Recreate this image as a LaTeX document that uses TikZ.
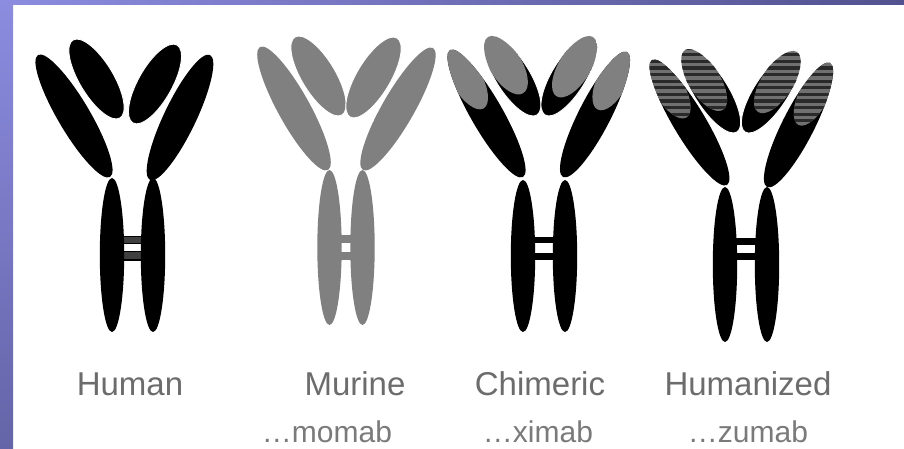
\documentclass[tikz,border=0pt]{standalone}
\usepackage{fontspec}
\newfontfamily\labelfont{Liberation Sans}
\definecolor{murgray}{HTML}{808080}
\definecolor{hatchlight}{HTML}{707070}
\definecolor{hatchdark}{HTML}{2A2A2A}
\definecolor{labgray}{HTML}{6C6C6C}
\definecolor{subgray}{HTML}{7A7A7A}
\definecolor{frametop}{HTML}{8C8CE0}
\definecolor{framebot}{HTML}{6464A8}
\definecolor{frameright}{HTML}{525290}

% geometry of one lobe: tip (x1,y1), tip (x2,y2), half width
\newcommand\setlobe[5]{%
  \pgfmathsetmacro\lcx{(#1+#3)/2}%
  \pgfmathsetmacro\lcy{-(#2+#4)/2}%
  \pgfmathsetmacro\lang{atan2(-(#4-#2),#3-#1)}%
  \pgfmathsetmacro\llen{veclen(#3-#1,#4-#2)/2}%
  \def\lw{#5}}
% plain lobe
\newcommand\lobe[6]{%
  \setlobe{#1}{#2}{#3}{#4}{#5}%
  \fill[#6, shift={(\lcx,\lcy)}, rotate=\lang] (0,0) ellipse [x radius=\llen, y radius=\lw];}
% lobe whose first tip carries a second colour over a fraction of its length
\newcommand\tiplobe[7]{%
  \setlobe{#1}{#2}{#3}{#4}{#5}%
  \begin{scope}
    \clip[shift={(\lcx,\lcy)}, rotate=\lang] (0,0) ellipse [x radius=\llen, y radius=\lw];
    \fill[#7, shift={(\lcx,\lcy)}, rotate=\lang] ({-\llen*(1-#6)},0) ellipse [x radius={\llen*#6}, y radius={\lw-1}];
  \end{scope}}
% same, with a striped tip
\newcommand\hatchlobe[6]{%
  \setlobe{#1}{#2}{#3}{#4}{#5}%
  \begin{scope}
    \clip[shift={(\lcx,\lcy)}, rotate=\lang] (0,0) ellipse [x radius=\llen, y radius=\lw];
    \clip[shift={(\lcx,\lcy)}, rotate=\lang] ({-\llen*(1-#6)},0) ellipse [x radius={\llen*#6}, y radius={\lw-1.2}];
    \fill[hatchlight] ({\lcx-90},-20) rectangle ({\lcx+90},-200);
    \foreach \k in {0,...,24}
      \fill[hatchdark] ({\lcx-90},{-40-\k*6.6}) rectangle ({\lcx+90},{-40-\k*6.6-3.2});
  \end{scope}}
% constant-region stem: centre x, top y, bottom y
\newcommand\stem[4]{%
  \fill[#4] (#1,{-(#2+#3)/2}) ellipse [x radius=12.2, y radius={(#3-#2)/2}];}

\begin{document}
\begin{tikzpicture}[x=1pt,y=1pt,
  lab/.style={font=\labelfont\fontsize{33}{36}\selectfont, text=labgray, anchor=base, inner sep=0pt},
  sub/.style={font=\labelfont\fontsize{30}{34}\selectfont, text=subgray, anchor=base, inner sep=0pt},
  lightgap/.style={draw=white, line width=0.9pt}]
\useasboundingbox (0,0) rectangle (904,-449);

% slide frame
\fill[white] (0,0) rectangle (904,-449);
\shade[top color=frametop, bottom color=framebot] (0,0) rectangle (13,-449);
\shade[left color=frametop, right color=frameright] (0,0) rectangle (904,-5);

% ---------- Human ----------
\fill[black!75, draw=black, line width=1.2pt] (113,-236.5) rectangle (150,-243.5);
\fill[black!75, draw=black, line width=1.2pt] (113,-251.5) rectangle (150,-260);
\stem{112}{178}{332}{black}
\stem{153}{178}{332}{black}
\lobe{38}{55}{110}{177}{16}{black}
\lobe{210}{55}{150}{180}{16}{black}
\lobe{73}{40}{120}{118}{17}{black, lightgap}
\lobe{177}{45}{133}{123}{17}{black, lightgap}

% ---------- Murine ----------
\fill[murgray] (330,-235) rectangle (362,-243);
\fill[murgray] (330,-252) rectangle (362,-260);
\stem{329.5}{170}{325}{murgray}
\stem{362.5}{170}{325}{murgray}
\lobe{260}{47}{328}{170}{16}{murgray}
\lobe{433}{48}{363}{170}{16}{murgray}
\lobe{295}{37}{342}{115}{17}{murgray, lightgap}
\lobe{397}{38}{350}{117}{17}{murgray, lightgap}

% ---------- Chimeric ----------
\fill[black] (523,-237) rectangle (565,-243);
\fill[black] (523,-253) rectangle (565,-260);
\stem{523}{180}{332}{black}
\stem{565}{180}{332}{black}
\lobe{450}{50}{523}{177}{16}{black}
\tiplobe{450}{50}{523}{177}{16}{0.46}{murgray}
\lobe{627}{52}{563}{177}{16}{black}
\tiplobe{627}{52}{563}{177}{16}{0.46}{murgray}
\lobe{488}{37}{537}{115}{17}{black, lightgap}
\tiplobe{488}{37}{537}{115}{17}{0.72}{murgray}
\lobe{593}{37}{545}{115}{17}{black, lightgap}
\tiplobe{593}{37}{545}{115}{17}{0.76}{murgray}

% ---------- Humanized ----------
\fill[black] (725,-238) rectangle (767,-245);
\fill[black] (725,-253) rectangle (767,-260);
\stem{725}{187}{342}{black}
\stem{767}{187}{342}{black}
\lobe{652}{60}{727}{185}{16}{black}
\hatchlobe{652}{60}{727}{185}{16}{0.46}
\lobe{830}{63}{767}{187}{16}{black}
\hatchlobe{830}{63}{767}{187}{16}{0.5}
\lobe{685}{50}{737}{132}{17}{black, lightgap}
\hatchlobe{685}{50}{737}{132}{17}{0.73}
\lobe{797}{52}{745}{132}{17}{black, lightgap}
\hatchlobe{797}{52}{745}{132}{17}{0.75}

% ---------- labels ----------
\node[lab] (human)     at (130,-395) {Human};
\node[lab] (murine)    at (355,-395) {Murine};
\node[lab] (chimeric)  at (540,-395) {Chimeric};
\node[lab] (humanized) at (748,-395) {Humanized};
\node[sub] (momab) at (327,-442) {…momab};
\node[sub] (ximab) at (538,-442) {…ximab};
\node[sub] (zumab) at (748,-442) {…zumab};
\end{tikzpicture}
\end{document}
